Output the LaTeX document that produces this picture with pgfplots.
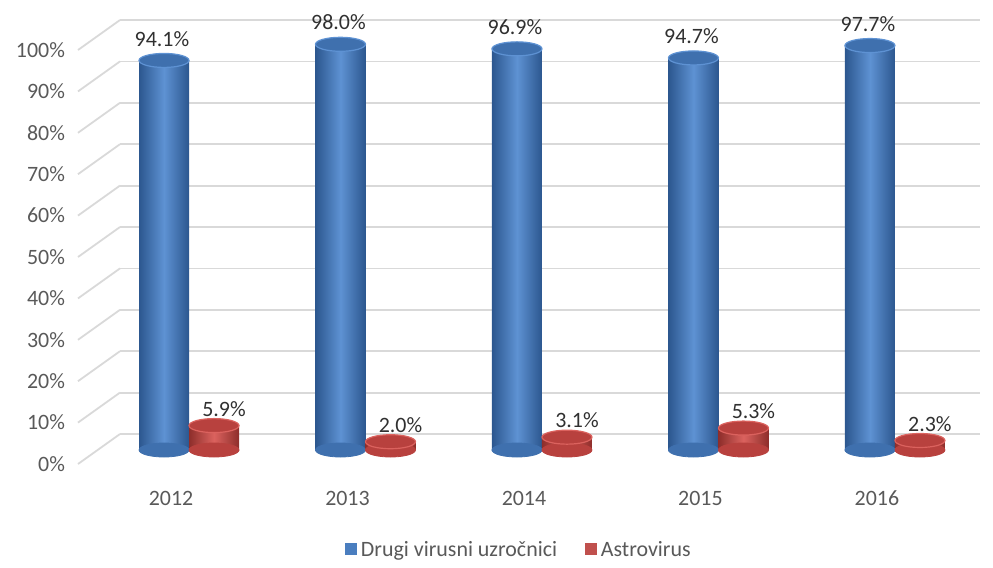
\documentclass[border=0pt]{standalone}
\usepackage{pgfplots}
\pgfplotsset{compat=1.18}
\usepackage{pgfplotstable}
\usepackage{fontspec}
\setmainfont{Carlito}
\definecolor{blueL}{HTML}{5E92D3}
\definecolor{blueM}{HTML}{4A7EBF}
\definecolor{blueT}{HTML}{3F70AE}
\definecolor{blueD}{HTML}{2C578F}
\definecolor{redL}{HTML}{DB625E}
\definecolor{redM}{HTML}{C0504D}
\definecolor{redT}{HTML}{B8413E}
\definecolor{redD}{HTML}{8E2E2B}
\definecolor{gridc}{HTML}{D9D9D9}
\definecolor{tickc}{HTML}{595959}
\definecolor{labc}{HTML}{303030}
\pgfdeclareplotmark{cyl}{\pgfpathellipse{\pgfpointorigin}{\pgfqpoint{12.5bp}{0pt}}{\pgfqpoint{0pt}{3.5bp}}\pgfusepathqfillstroke}
\pgfplotstableread{
x drugi astro
0 94.1 5.9
1 98.0 2.0
2 96.9 3.1
3 94.7 5.3
4 97.7 2.3
}\data
\pgfplotsset{
  bluebar/.style={ybar, bar width=25bp, bar shift=-12.5bp, draw=none,
    left color=blueD, right color=blueD, middle color=blueL, forget plot},
  redbar/.style={ybar, bar width=25bp, bar shift=12.5bp, draw=none,
    left color=redD, right color=redD, middle color=redL, forget plot},
}
\begin{document}
\begin{tikzpicture}
\path (-60bp,-56bp) rectangle (436.5bp,225bp);
\begin{axis}[
  at={(0,0)}, anchor=south west,
  scale only axis, width=430bp, height=207bp,
  xmin=-0.391, xmax=4.482, ymin=0, ymax=100,
  clip=false,
  axis line style={draw=none}, tick style={draw=none},
  xtick={0,1,2,3,4}, xticklabels={2012,2013,2014,2015,2016},
  ytick={0,10,...,100},
  yticklabel={\pgfmathprintnumber{\tick}\%},
  /pgf/number format/assume math mode=true,
  ymajorgrids, major grid style={gridc, line width=0.9bp, yshift=8bp},
  tick label style={font=\fontsize{11}{13}\selectfont, text=tickc},
  xticklabel style={yshift=-17bp, xshift=-9bp},
  yticklabel style={xshift=-24bp, yshift=-7bp},
  legend style={at={(0.465,-0.242)}, anchor=center, draw=none,
    legend columns=2, font=\fontsize{11}{13}\selectfont, text=tickc,
    /tikz/every even column/.append style={column sep=12bp}},
]
\pgfplotsinvokeforeach{0,10,...,100}{
  \draw[gridc, line width=0.9bp] ([yshift=8bp]axis cs:-0.391,#1) -- ([xshift=-21bp,yshift=-7bp]axis cs:-0.391,#1);
}
\addlegendimage{legend image code/.code={\fill[blueM] (0bp,-2.2bp) rectangle (5.5bp,3.3bp);}}
\addlegendentry{Drugi virusni uzročnici}
\addlegendimage{legend image code/.code={\fill[redM] (0bp,-2.2bp) rectangle (5.5bp,3.3bp);}}
\addlegendentry{Astrovirus}
% bottoms
\addplot[only marks, mark=cyl, mark options={xshift=-12.5bp, fill=blueT, draw=blueT}, forget plot]
  coordinates {(0,0)(1,0)(2,0)(3,0)(4,0)};
\addplot[only marks, mark=cyl, mark options={xshift=12.5bp, fill=redT, draw=redT}, forget plot]
  coordinates {(0,0)(1,0)(2,0)(3,0)(4,0)};
% bodies (one plot per bar, so each bar gets its own shading)
\addplot[bluebar] coordinates {(0,94.1)};
\addplot[bluebar] coordinates {(1,98.0)};
\addplot[bluebar] coordinates {(2,96.9)};
\addplot[bluebar] coordinates {(3,94.7)};
\addplot[bluebar] coordinates {(4,97.7)};
\addplot[redbar] coordinates {(0,5.9)};
\addplot[redbar] coordinates {(1,2.0)};
\addplot[redbar] coordinates {(2,3.1)};
\addplot[redbar] coordinates {(3,5.3)};
\addplot[redbar] coordinates {(4,2.3)};
% tops and labels
\addplot[only marks, mark=cyl, mark options={xshift=-12.5bp, fill=blueT, draw=blueL, line width=0.6bp}, forget plot,
  nodes near coords={\pgfmathprintnumber[fixed,fixed zerofill,precision=1]{\pgfplotspointmeta}\%},
  every node near coord/.append style={font=\fontsize{11}{13}\selectfont, text=labc, xshift=-1bp, yshift=3.5bp}]
  table[x=x, y=drugi]{\data};
\addplot[only marks, mark=cyl, mark options={xshift=12.5bp, fill=redT, draw=redL, line width=0.6bp}, forget plot,
  nodes near coords={\pgfmathprintnumber[fixed,fixed zerofill,precision=1]{\pgfplotspointmeta}\%},
  every node near coord/.append style={font=\fontsize{11}{13}\selectfont, text=labc, xshift=5bp, yshift=1bp}]
  table[x=x, y=astro]{\data};
\end{axis}
\end{tikzpicture}
\end{document}
